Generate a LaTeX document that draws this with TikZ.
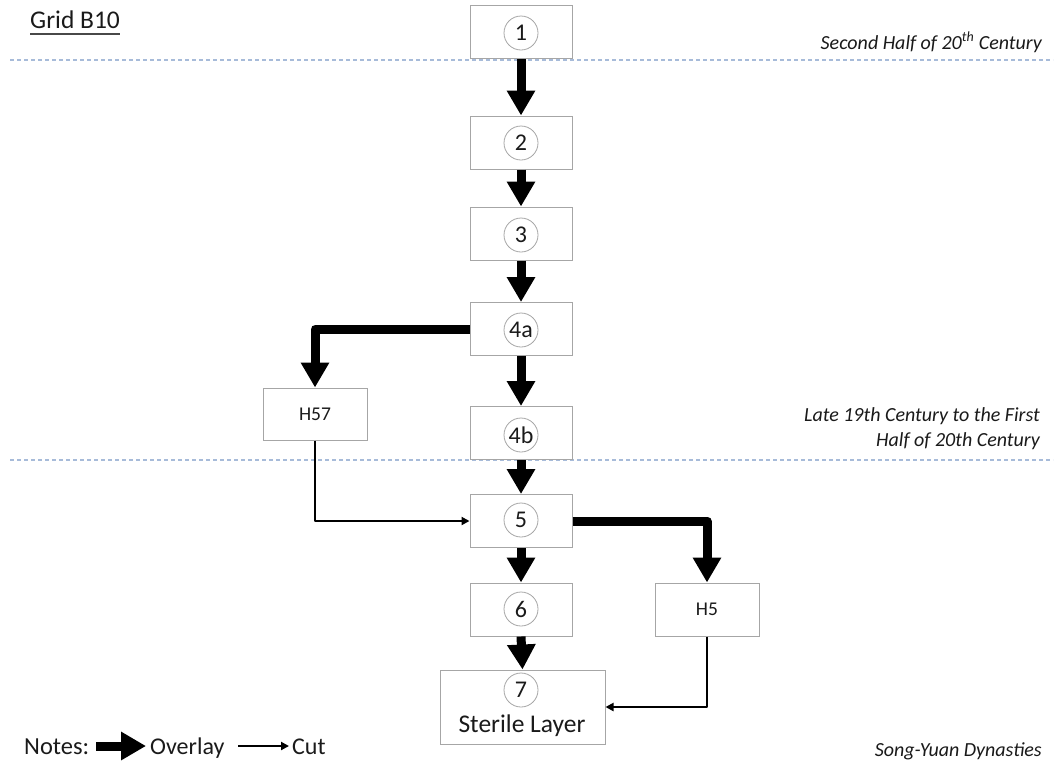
\documentclass[tikz,border=0pt]{standalone}
\usepackage{fontspec}
\setmainfont{Carlito}
\usetikzlibrary{arrows.meta}
\definecolor{boxgray}{HTML}{A6A6A6}
\definecolor{dashblue}{HTML}{A7BBD9}
\definecolor{txt}{HTML}{1A1A1A}
\tikzset{
  box/.style={draw=boxgray, line width=1pt, minimum width=102pt, minimum height=53pt, inner sep=0pt},
  numc/.style={draw=boxgray, line width=0.8pt, circle, minimum size=34pt, inner sep=0pt, text=txt, font=\fontsize{24}{26}\selectfont},
  hlabel/.style={text=txt, font=\fontsize{19.5}{22}\selectfont},
  period/.style={text=txt, font=\fontsize{20}{25}\itshape\selectfont, align=right, inner sep=0pt},
  overlay/.style={line width=9pt, -{Triangle[width=27pt,length=25pt]}, line join=round},
  cutarrow/.style={line width=2pt, -{Triangle[width=8pt,length=8pt]}, line join=round},
  phase/.style={dashblue, line width=1.2pt, dash pattern=on 4pt off 3pt},
}
\begin{document}
\begin{tikzpicture}[x=1pt,y=-1pt]
\useasboundingbox[fill=white] (0,0) rectangle (1056,764);
% phase lines
\draw[phase] (10,60) -- (1053,60);
\draw[phase] (10,460) -- (1053,460);
% boxes
\node[box] (b1) at (521,32) {};
\node[box] (b2) at (521,142.5) {};
\node[box] (b3) at (521,233.5) {};
\node[box] (b4a) at (521,329) {};
\node[box] (b4b) at (521,433) {};
\node[box] (b5) at (521,521) {};
\node[box] (b6) at (521,609.5) {};
\node[box, minimum width=165pt, minimum height=74pt] (b7) at (522.5,707) {};
\node[box, minimum width=104pt, minimum height=52pt, hlabel] (h57) at (315,414) {H57};
\node[box, minimum width=104pt, minimum height=53pt, hlabel] (h5) at (707,609.5) {H5};
% circled numbers
\node[numc] (c1) at (521,33) {1};
\node[numc] (c2) at (521,143) {2};
\node[numc] (c3) at (521,235) {3};
\node[numc] (c4a) at (521,330) {4a};
\node[numc] (c4b) at (521,435) {4b};
\node[numc] (c5) at (521,520) {5};
\node[numc] (c6) at (521,609) {6};
\node[numc] (c7) at (521,690) {7};
\node[text=txt, font=\fontsize{25.5}{28}\selectfont, inner sep=0pt] (sterile) at (522,726) {Sterile Layer};
% overlay arrows
\draw[overlay] (b1.south) -- (b2.north);
\draw[overlay] (b2.south) -- (b3.north);
\draw[overlay] (b3.south) -- (b4a.north);
\draw[overlay] (b4a.south) -- (b4b.north);
\draw[overlay] (b4b.south) -- (b5.north);
\draw[overlay] (b5.south) -- (b6.north);
\draw[overlay] (b6.south) -- (b7.north);
\draw[overlay] (b4a.west) -| (h57.north);
\draw[overlay] (b5.east) -| (h5.north);
% cut arrows
\draw[cutarrow] (h57.south) |- (b5.west);
\draw[cutarrow] (h5.south) |- (b7.east);
% title
\node[text=txt, font=\fontsize{25.5}{28}\selectfont, anchor=base west, inner sep=0pt] (grid) at (30,28) {Grid B10};
\draw[txt!80, line width=1.5pt] ([yshift=-6pt]grid.base west) -- ([yshift=-6pt]grid.base east);
% period labels
\node[period, anchor=base east] (p1) at (1042,49) {Second Half of 20\textsuperscript{th} Century};
\node[period, anchor=base east] (p2) at (1040,446) {Late 19th Century to the First\\Half of 20th Century};
\node[period, anchor=base east] (p3) at (1042,756) {Song-Yuan Dynasties};
% legend
\node[text=txt, font=\fontsize{24.5}{28}\selectfont, anchor=base west, inner sep=0pt] (notes) at (24,754) {Notes:};
\coordinate (l1a) at (96,746);
\coordinate (l1b) at (146,746);
\draw[overlay] (l1a) -- (l1b);
\node[text=txt, font=\fontsize{24}{28}\selectfont, anchor=base west, inner sep=0pt] (ovl) at (150,754) {Overlay};
\coordinate (l2a) at (238,746);
\coordinate (l2b) at (289,746);
\draw[cutarrow] (l2a) -- (l2b);
\node[text=txt, font=\fontsize{24}{28}\selectfont, anchor=base west, inner sep=0pt] (cut) at (292,754) {Cut};
\end{tikzpicture}
\end{document}
